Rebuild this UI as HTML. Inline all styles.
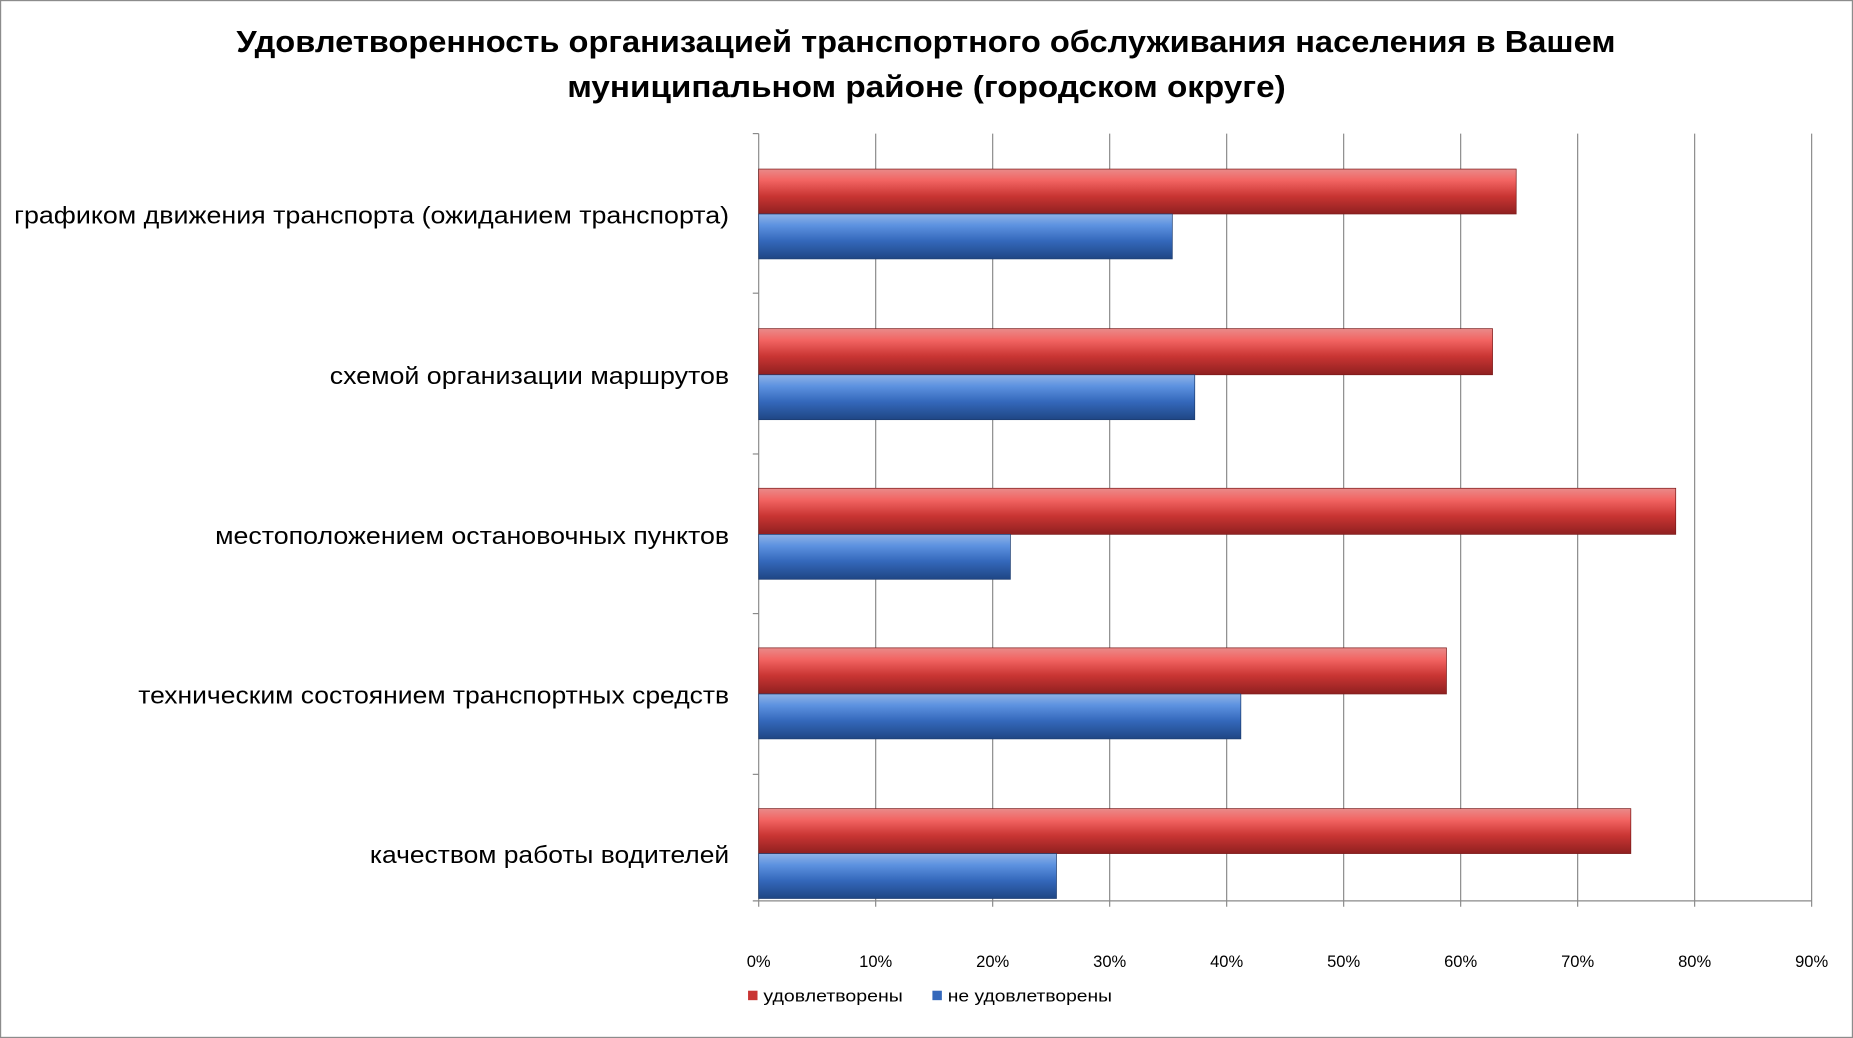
<!DOCTYPE html>
<html><head><meta charset="utf-8"><style>html,body{margin:0;padding:0;background:#fff}svg{display:block}</style></head>
<body>
<svg width="1853" height="1038" viewBox="0 0 1568 878" preserveAspectRatio="none" xmlns="http://www.w3.org/2000/svg" font-family="'Liberation Sans', 'DejaVu Sans', sans-serif">
<defs>
<linearGradient id="r" x1="0" y1="0" x2="0" y2="1">
<stop offset="0" stop-color="#e98a89"/><stop offset="0.25" stop-color="#f26462"/><stop offset="0.6" stop-color="#c93533"/><stop offset="1" stop-color="#8f2020"/>
</linearGradient>
<linearGradient id="b" x1="0" y1="0" x2="0" y2="1">
<stop offset="0" stop-color="#8fb2e6"/><stop offset="0.25" stop-color="#5d92e0"/><stop offset="0.6" stop-color="#3468bb"/><stop offset="1" stop-color="#1f4684"/>
</linearGradient>
</defs>
<rect x="0.5" y="0.5" width="1567" height="877" fill="#fff" stroke="#8c8c8c"/>
<text x="200" y="44" font-size="26" font-weight="bold" fill="#000" textLength="1167" lengthAdjust="spacingAndGlyphs">Удовлетворенность организацией транспортного обслуживания населения в Вашем</text>
<text x="480" y="82" font-size="26" font-weight="bold" fill="#000" textLength="608" lengthAdjust="spacingAndGlyphs">муниципальном районе (городском округе)</text>
<g stroke="#8a8a8a" stroke-width="1">
<line x1="642" y1="113" x2="642" y2="767"/><line x1="741" y1="113" x2="741" y2="767"/><line x1="840" y1="113" x2="840" y2="767"/><line x1="939" y1="113" x2="939" y2="767"/><line x1="1038" y1="113" x2="1038" y2="767"/><line x1="1137" y1="113" x2="1137" y2="767"/><line x1="1236" y1="113" x2="1236" y2="767"/><line x1="1335" y1="113" x2="1335" y2="767"/><line x1="1434" y1="113" x2="1434" y2="767"/><line x1="1533" y1="113" x2="1533" y2="767"/>
<line x1="637" y1="113" x2="642" y2="113"/><line x1="637" y1="248" x2="642" y2="248"/><line x1="637" y1="384" x2="642" y2="384"/><line x1="637" y1="519" x2="642" y2="519"/><line x1="637" y1="655" x2="642" y2="655"/><line x1="637" y1="762" x2="1533" y2="762"/>
</g>
<g stroke="#7a1a1a" stroke-width="0.6">
<rect x="642" y="143" width="641" height="38" fill="url(#r)"/>
<rect x="642" y="278" width="621" height="39" fill="url(#r)"/>
<rect x="642" y="413" width="776" height="39" fill="url(#r)"/>
<rect x="642" y="548" width="582" height="39" fill="url(#r)"/>
<rect x="642" y="684" width="738" height="38" fill="url(#r)"/>
</g>
<g stroke="#1c3c70" stroke-width="0.6">
<rect x="642" y="181" width="350" height="38" fill="url(#b)"/>
<rect x="642" y="317" width="369" height="38" fill="url(#b)"/>
<rect x="642" y="452" width="213" height="38" fill="url(#b)"/>
<rect x="642" y="587" width="408" height="38" fill="url(#b)"/>
<rect x="642" y="722" width="252" height="38" fill="url(#b)"/>
</g>
<g font-size="20" fill="#000">
<text x="12" y="189" textLength="605" lengthAdjust="spacingAndGlyphs">графиком движения транспорта (ожиданием транспорта)</text>
<text x="279" y="325" textLength="338" lengthAdjust="spacingAndGlyphs">схемой организации маршрутов</text>
<text x="182" y="460" textLength="435" lengthAdjust="spacingAndGlyphs">местоположением остановочных пунктов</text>
<text x="117" y="595" textLength="500" lengthAdjust="spacingAndGlyphs">техническим состоянием транспортных средств</text>
<text x="313" y="730" textLength="304" lengthAdjust="spacingAndGlyphs">качеством работы водителей</text>
</g>
<g font-size="14" text-anchor="middle" fill="#000">
<text x="642" y="818">0%</text><text x="741" y="818">10%</text><text x="840" y="818">20%</text><text x="939" y="818">30%</text><text x="1038" y="818">40%</text><text x="1137" y="818">50%</text><text x="1236" y="818">60%</text><text x="1335" y="818">70%</text><text x="1434" y="818">80%</text><text x="1533" y="818">90%</text>
</g>
<rect x="633" y="838" width="8" height="8" fill="#c93533"/>
<text x="646" y="847" font-size="14" fill="#000" textLength="118" lengthAdjust="spacingAndGlyphs">удовлетворены</text>
<rect x="789" y="838" width="8" height="8" fill="#3468bb"/>
<text x="802" y="847" font-size="14" fill="#000" textLength="139" lengthAdjust="spacingAndGlyphs">не удовлетворены</text>
</svg>
</body></html>
